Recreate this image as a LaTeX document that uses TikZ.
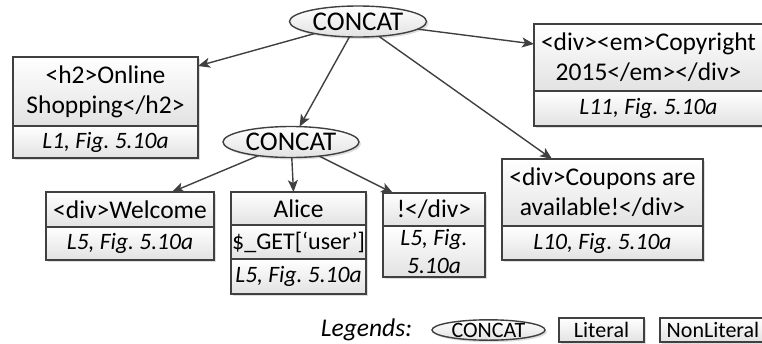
\documentclass[tikz,border=0pt]{standalone}
\usepackage{fontspec}
\setmainfont{Carlito}
\usetikzlibrary{arrows.meta,shapes.geometric,shadows}
\definecolor{edgecol}{HTML}{404040}
\definecolor{shadecol}{HTML}{E2E2E2}
\tikzset{
  boxshadow/.style={drop shadow={shadow xshift=2pt, shadow yshift=-2pt, fill=black!13, opacity=1}},
  cell/.style={draw=edgecol, line width=1.4pt, top color=white, bottom color=shadecol,
    inner sep=0pt, outer sep=0pt, align=center, anchor=north west,
    font=\fontsize{25.5}{30}\selectfont, boxshadow},
  refcell/.style={cell, font=\fontsize{23.5}{28}\selectfont\itshape},
  legcell/.style={cell, font=\fontsize{22}{26}\selectfont},
  op/.style={ellipse, draw=edgecol, line width=1.4pt, top color=white, bottom color=shadecol,
    inner sep=0pt, outer sep=0pt, font=\fontsize{27}{30}\selectfont, boxshadow},
  link/.style={draw=edgecol, line width=1.4pt, -{Stealth[length=12pt,width=10pt,inset=3pt]}},
}
\begin{document}
\frenchspacing
\begin{tikzpicture}[x=1pt, y=-1pt]
\useasboundingbox (0,0) rectangle (762,343);

% concatenation operators
\node[op, minimum width=137pt, minimum height=31pt] (e1) at (358,21.5) {CONCAT};
\node[op, minimum width=136pt, minimum height=31pt] (e2) at (291,142) {CONCAT};

% literal boxes with their source references
\node[cell, minimum width=185pt, minimum height=69pt] (b1) at (13,57) {<h2>Online\\Shopping</h2>};
\node[refcell, minimum width=185pt, minimum height=32pt] (b1r) at (b1.south west) {L1, Fig. 5.10a};

\node[cell, minimum width=168pt, minimum height=35pt] (wl) at (46,192) {<div>Welcome};
\node[refcell, minimum width=168pt, minimum height=33pt] (wlr) at (wl.south west) {L5, Fig. 5.10a};

\node[cell, minimum width=135pt, minimum height=33pt] (al) at (231,192) {Alice};
\node[cell, minimum width=135pt, minimum height=34pt, font=\fontsize{24}{28}\selectfont] (alv) at (al.south west) {\$\_GET[‘user’]};
\node[refcell, minimum width=135pt, minimum height=35pt] (alr) at (alv.south west) {L5, Fig. 5.10a};

\node[cell, minimum width=102pt, minimum height=33pt] (ex) at (383,193) {!</div>};
\node[refcell, minimum width=102pt, minimum height=51pt] (exr) at (ex.south west) {L5, Fig.\\5.10a};

\node[cell, minimum width=201pt, minimum height=67pt] (cp) at (502,159) {<div>Coupons are\\available!</div>};
\node[refcell, minimum width=201pt, minimum height=34pt] (cpr) at (cp.south west) {L10, Fig. 5.10a};

\node[cell, minimum width=229pt, minimum height=67pt] (cr) at (534,24) {<div><em>Copyright\\2015</em></div>};
\node[refcell, minimum width=229pt, minimum height=35pt] (crr) at (cr.south west) {L11, Fig. 5.10a};

% connectors
\draw[link] (e1) -- ([yshift=-9pt]b1.north east);
\draw[link] (e1) -- (e2);
\draw[link] (e1) -- ([yshift=-20pt]cr.north west);
\draw[link] (e1) -- ([xshift=50pt]cp.north west);
\draw[link] (e2) -- ([xshift=-42pt]wl.north east);
\draw[link] (e2) -- ([xshift=-5pt]al.north);
\draw[link] (e2) -- ([xshift=10pt]ex.north west);

% legend
\node[font=\fontsize{25.5}{30}\selectfont\itshape, inner sep=0pt] (lg) at (366.5,330) {Legends:};
\node[op, minimum width=113pt, minimum height=19pt, font=\fontsize{22}{26}\selectfont] (lgop) at (488.5,330) {CONCAT};
\node[legcell, minimum width=85pt, minimum height=24pt] (lglit) at (559,318) {Literal};
\node[legcell, minimum width=106pt, minimum height=24pt] (lgnon) at (660,318) {NonLiteral};
\end{tikzpicture}
\end{document}
